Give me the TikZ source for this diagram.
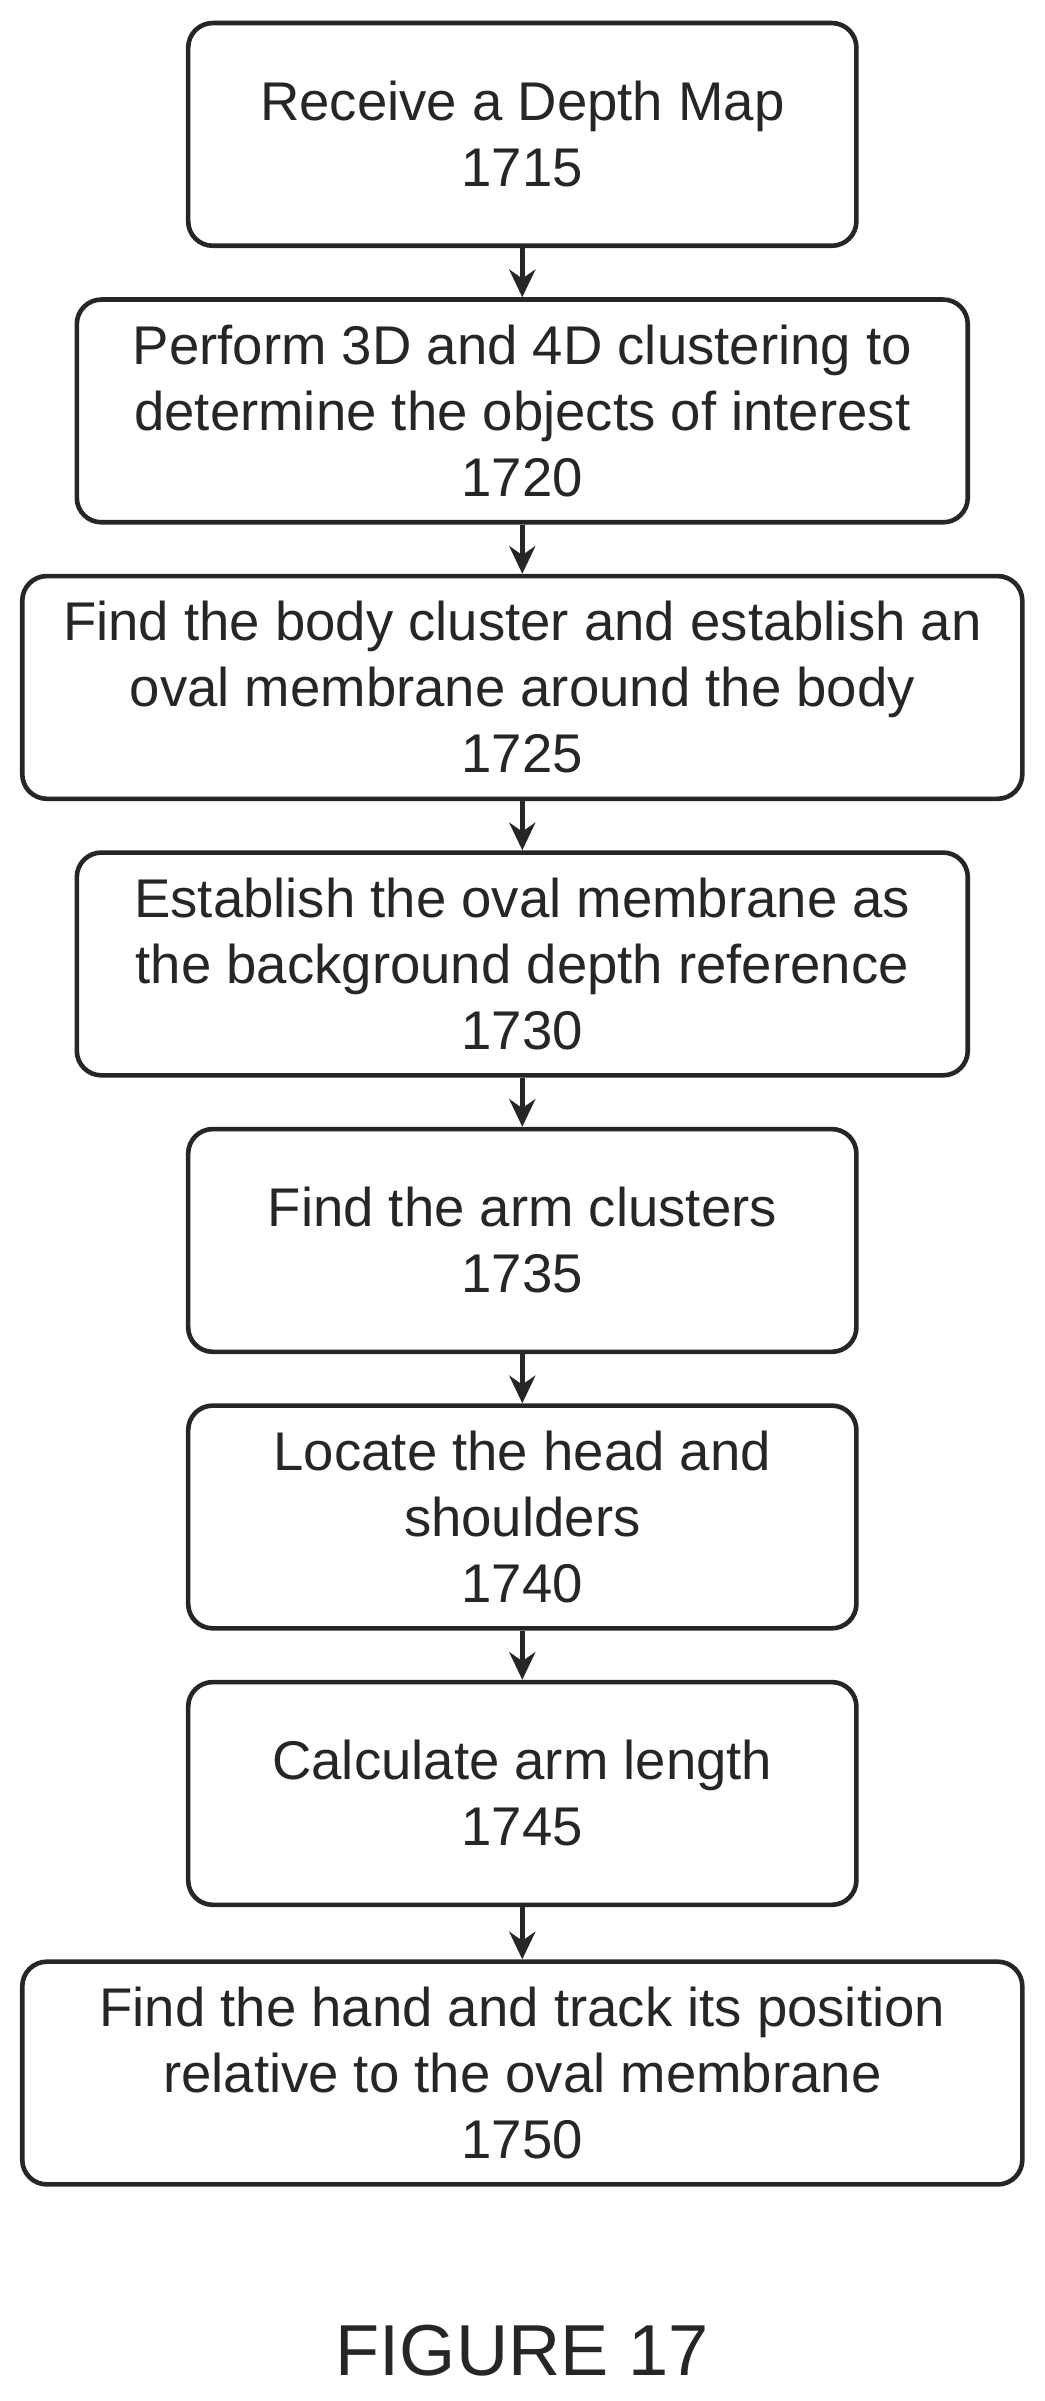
\documentclass[tikz,border=0pt]{standalone}
\usepackage{fontspec}
\setmainfont{Liberation Sans}
\usetikzlibrary{arrows.meta}
\begin{document}
\begin{tikzpicture}[x=1pt,y=-1pt,
  box/.style={draw=black!85,line width=3pt,rounded corners=16pt,align=center,
    font=\fontsize{35.5}{43}\selectfont,inner sep=0pt,text=black!85},
  arr/.style={draw=black!85,line width=3pt,-{Stealth[length=18pt,width=17pt]}}]
\useasboundingbox (0,0) rectangle (680,1563);
\node[box,minimum width=435,minimum height=145] (b1) at (340,87.5) {Receive a Depth Map\\1715};
\node[box,minimum width=580,minimum height=145] (b2) at (340,267.5) {Perform 3D and 4D clustering to\\determine the objects of interest\\1720};
\node[box,minimum width=651,minimum height=145] (b3) at (340,447.5) {Find the body cluster and establish an\\oval membrane around the body\\1725};
\node[box,minimum width=580,minimum height=145] (b4) at (340,627.5) {Establish the oval membrane as\\the background depth reference\\1730};
\node[box,minimum width=435,minimum height=145] (b5) at (340,807.5) {Find the arm clusters\\1735};
\node[box,minimum width=435,minimum height=145] (b6) at (340,987.5) {Locate the head and\\shoulders\\1740};
\node[box,minimum width=435,minimum height=145] (b7) at (340,1167.5) {Calculate arm length\\1745};
\node[box,minimum width=651,minimum height=145] (b8) at (340,1349.5) {Find the hand and track its position\\relative to the oval membrane\\1750};
\node[font=\fontsize{47}{56}\selectfont,text=black!85] (fig) at (340,1530) {FIGURE 17};
\foreach \a/\b in {b1/b2,b2/b3,b3/b4,b4/b5,b5/b6,b6/b7,b7/b8}
  \draw[arr] (\a.south) -- (\b.north);
\end{tikzpicture}
\end{document}
